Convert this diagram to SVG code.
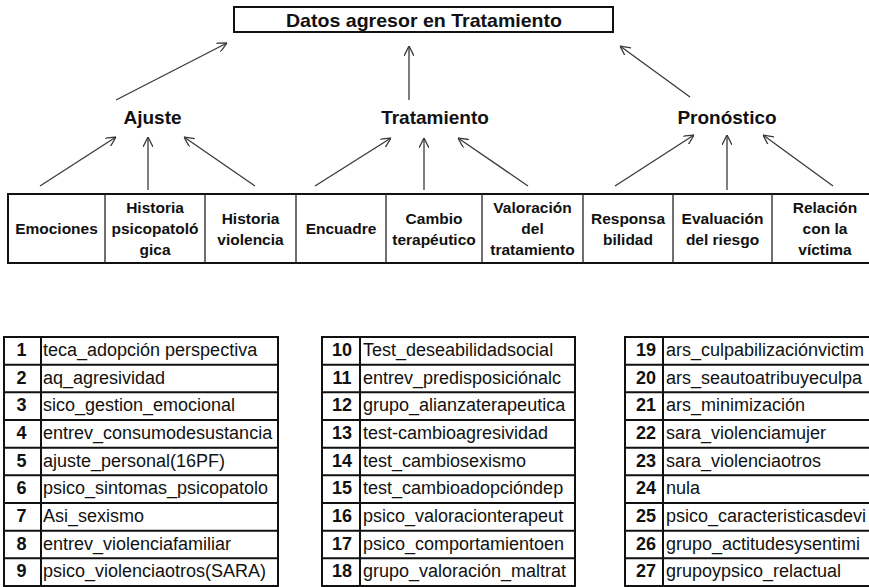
<svg xmlns="http://www.w3.org/2000/svg" width="869" height="587" viewBox="0 0 869 587">
<style>
.bg{fill:#fff}
.box{fill:#fff;stroke:#111;stroke-width:2}
.div{stroke:#222;stroke-width:1.3}
.conn{stroke:#3a3a3a;stroke-width:1.3;fill:none}
.t{font-family:"Liberation Sans",Arial,sans-serif;fill:#111}
.title{font-size:18.5px;font-weight:bold;text-anchor:middle}
.cat{font-size:19px;font-weight:bold;text-anchor:middle}
.cell{font-size:15.5px;font-weight:bold;text-anchor:middle}
.num{font-size:18px;font-weight:bold;text-anchor:middle}
.row{font-size:18px}
.tl{stroke:#111;stroke-width:2;fill:none}
</style>
<defs>
<marker id="ah" viewBox="0 0 10 10" refX="10" refY="5" markerWidth="10" markerHeight="10" markerUnits="userSpaceOnUse" orient="auto">
<path d="M0,0 L10,5 L0,10" fill="none" stroke="#3a3a3a" stroke-width="1.3"/>
</marker>
</defs>
<rect class="bg" x="0" y="0" width="869" height="587"/>

<g id="title">
<rect class="box" x="234" y="7" width="379" height="25"/>
<text class="t title" x="424" y="27" textLength="276" lengthAdjust="spacingAndGlyphs">Datos agresor en Tratamiento</text>
</g>

<g id="ajuste"><text class="t cat" x="152.5" y="124">Ajuste</text></g>
<g id="tratamiento"><text class="t cat" x="435" y="124">Tratamiento</text></g>
<g id="pronostico"><text class="t cat" x="727" y="124">Pronóstico</text></g>

<g id="connectors">
<line class="conn" x1="116" y1="100" x2="227" y2="43" marker-end="url(#ah)"/>
<line class="conn" x1="409" y1="100" x2="409" y2="46" marker-end="url(#ah)"/>
<line class="conn" x1="690" y1="97" x2="620" y2="46" marker-end="url(#ah)"/>
<line class="conn" x1="40" y1="186" x2="116" y2="137" marker-end="url(#ah)"/>
<line class="conn" x1="148" y1="190" x2="148" y2="137" marker-end="url(#ah)"/>
<line class="conn" x1="255" y1="186" x2="184" y2="137" marker-end="url(#ah)"/>
<line class="conn" x1="315" y1="186" x2="391" y2="138" marker-end="url(#ah)"/>
<line class="conn" x1="424" y1="190" x2="424" y2="138" marker-end="url(#ah)"/>
<line class="conn" x1="528" y1="186" x2="458" y2="138" marker-end="url(#ah)"/>
<line class="conn" x1="615" y1="186" x2="694" y2="135" marker-end="url(#ah)"/>
<line class="conn" x1="727" y1="190" x2="727" y2="135" marker-end="url(#ah)"/>
<line class="conn" x1="833" y1="186" x2="763" y2="135" marker-end="url(#ah)"/>
</g>

<g id="cells">
<rect class="box" x="8" y="194" width="872" height="69"/>
<line class="div" x1="105" y1="194" x2="105" y2="263"/>
<line class="div" x1="205" y1="194" x2="205" y2="263"/>
<line class="div" x1="296" y1="194" x2="296" y2="263"/>
<line class="div" x1="386" y1="194" x2="386" y2="263"/>
<line class="div" x1="482" y1="194" x2="482" y2="263"/>
<line class="div" x1="583" y1="194" x2="583" y2="263"/>
<line class="div" x1="673" y1="194" x2="673" y2="263"/>
<line class="div" x1="772" y1="194" x2="772" y2="263"/>
<g id="c-emociones"><text class="t cell" x="56.5" y="234">Emociones</text></g>
<g id="c-histpsico"><text class="t cell" x="155" y="213">Historia</text><text class="t cell" x="155" y="234">psicopatoló</text><text class="t cell" x="155" y="255">gica</text></g>
<g id="c-histviol"><text class="t cell" x="250.5" y="224">Historia</text><text class="t cell" x="250.5" y="245">violencia</text></g>
<g id="c-encuadre"><text class="t cell" x="341" y="234">Encuadre</text></g>
<g id="c-cambio"><text class="t cell" x="434" y="224">Cambio</text><text class="t cell" x="434" y="245">terapéutico</text></g>
<g id="c-valoracion"><text class="t cell" x="532.5" y="213">Valoración</text><text class="t cell" x="532.5" y="234">del</text><text class="t cell" x="532.5" y="255">tratamiento</text></g>
<g id="c-respons"><text class="t cell" x="628" y="224">Responsa</text><text class="t cell" x="628" y="245">bilidad</text></g>
<g id="c-evaluacion"><text class="t cell" x="722.5" y="224">Evaluación</text><text class="t cell" x="722.5" y="245">del riesgo</text></g>
<g id="c-relacion"><text class="t cell" x="825" y="213">Relación</text><text class="t cell" x="825" y="234">con la</text><text class="t cell" x="825" y="255">víctima</text></g>
</g>

<g id="table1">
<rect class="tl" x="4" y="337" width="274" height="249"/>
<line class="tl" x1="41" y1="337" x2="41" y2="586"/>
<path class="tl" d="M4,364.7H278M4,392.3H278M4,420H278M4,447.7H278M4,475.3H278M4,503H278M4,530.7H278M4,558.3H278"/>
<text class="t num" x="21.5" y="356">1</text><text class="t row" x="43" y="356">teca_adopción perspectiva</text>
<text class="t num" x="21.5" y="383.7">2</text><text class="t row" x="43" y="383.7">aq_agresividad</text>
<text class="t num" x="21.5" y="411.3">3</text><text class="t row" x="43" y="411.3">sico_gestion_emocional</text>
<text class="t num" x="21.5" y="439">4</text><text class="t row" x="43" y="439">entrev_consumodesustancia</text>
<text class="t num" x="21.5" y="466.7">5</text><text class="t row" x="43" y="466.7">ajuste_personal(16PF)</text>
<text class="t num" x="21.5" y="494.3">6</text><text class="t row" x="43" y="494.3">psico_sintomas_psicopatolo</text>
<text class="t num" x="21.5" y="522">7</text><text class="t row" x="43" y="522">Asi_sexismo</text>
<text class="t num" x="21.5" y="549.7">8</text><text class="t row" x="43" y="549.7">entrev_violenciafamiliar</text>
<text class="t num" x="21.5" y="577.3">9</text><text class="t row" x="43" y="577.3">psico_violenciaotros(SARA)</text>
</g>

<g id="table2">
<rect class="tl" x="322" y="337" width="253" height="249"/>
<line class="tl" x1="360" y1="337" x2="360" y2="586"/>
<path class="tl" d="M322,364.7H575M322,392.3H575M322,420H575M322,447.7H575M322,475.3H575M322,503H575M322,530.7H575M322,558.3H575"/>
<text class="t num" x="342" y="356">10</text><text class="t row" x="363" y="356">Test_deseabilidadsocial</text>
<text class="t num" x="342" y="383.7">11</text><text class="t row" x="363" y="383.7">entrev_predisposiciónalc</text>
<text class="t num" x="342" y="411.3">12</text><text class="t row" x="363" y="411.3">grupo_alianzaterapeutica</text>
<text class="t num" x="342" y="439">13</text><text class="t row" x="363" y="439">test-cambioagresividad</text>
<text class="t num" x="342" y="466.7">14</text><text class="t row" x="363" y="466.7">test_cambiosexismo</text>
<text class="t num" x="342" y="494.3">15</text><text class="t row" x="363" y="494.3">test_cambioadopcióndep</text>
<text class="t num" x="342" y="522">16</text><text class="t row" x="363" y="522">psico_valoracionterapeut</text>
<text class="t num" x="342" y="549.7">17</text><text class="t row" x="363" y="549.7">psico_comportamientoen</text>
<text class="t num" x="342" y="577.3">18</text><text class="t row" x="363" y="577.3">grupo_valoración_maltrat</text>
</g>

<g id="table3">
<rect class="tl" x="625" y="337" width="260" height="249"/>
<line class="tl" x1="663" y1="337" x2="663" y2="586"/>
<path class="tl" d="M625,364.7H885M625,392.3H885M625,420H885M625,447.7H885M625,475.3H885M625,503H885M625,530.7H885M625,558.3H885"/>
<text class="t num" x="646" y="356">19</text><text class="t row" x="666" y="356">ars_culpabilizaciónvictim</text>
<text class="t num" x="646" y="383.7">20</text><text class="t row" x="666" y="383.7">ars_seautoatribuyeculpa</text>
<text class="t num" x="646" y="411.3">21</text><text class="t row" x="666" y="411.3">ars_minimización</text>
<text class="t num" x="646" y="439">22</text><text class="t row" x="666" y="439">sara_violenciamujer</text>
<text class="t num" x="646" y="466.7">23</text><text class="t row" x="666" y="466.7">sara_violenciaotros</text>
<text class="t num" x="646" y="494.3">24</text><text class="t row" x="666" y="494.3">nula</text>
<text class="t num" x="646" y="522">25</text><text class="t row" x="666" y="522">psico_caracteristicasdevi</text>
<text class="t num" x="646" y="549.7">26</text><text class="t row" x="666" y="549.7">grupo_actitudesysentimi</text>
<text class="t num" x="646" y="577.3">27</text><text class="t row" x="666" y="577.3">grupoypsico_relactual</text>
</g>
</svg>
